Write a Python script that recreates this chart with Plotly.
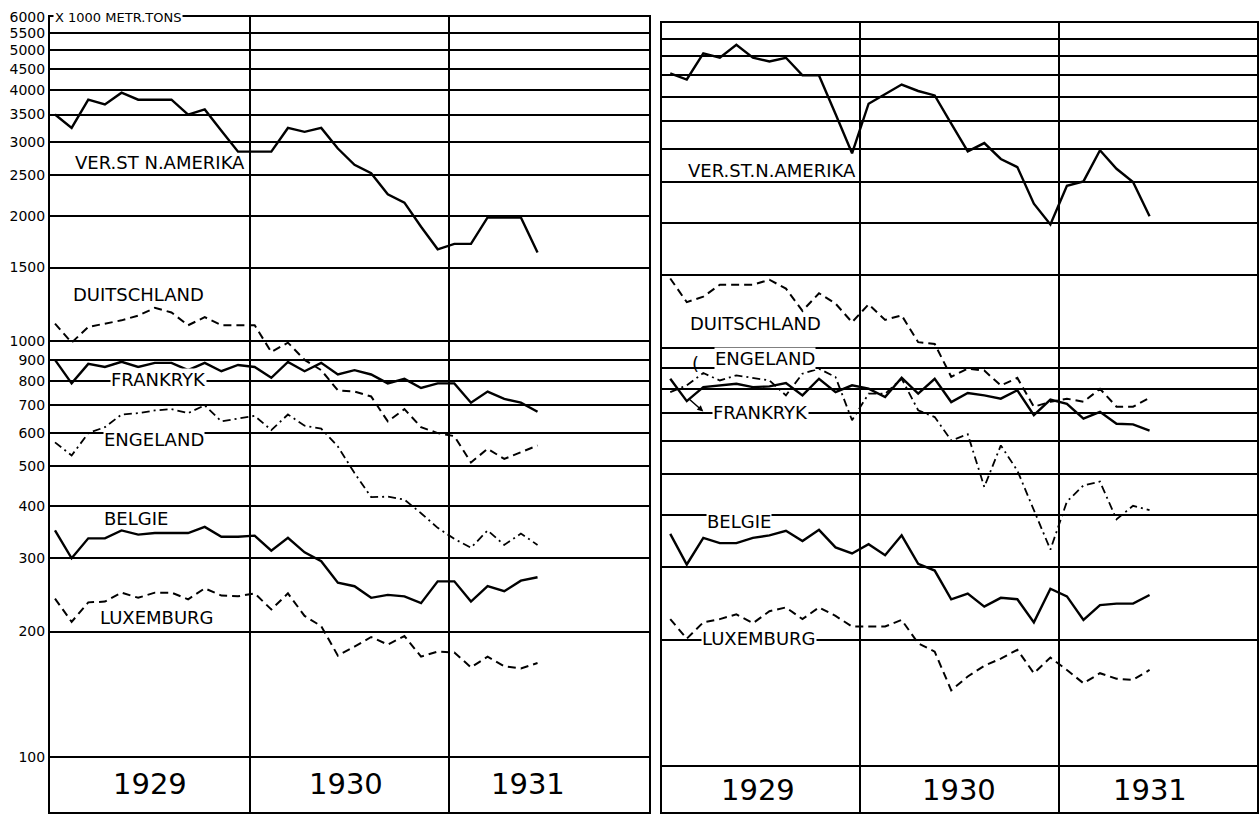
import math
import plotly.graph_objects as go

# ---------------- data (x 1000 metric tons, monthly Jan 1929 - Jun 1931) ----------------
MONTHS = [f"{y}-{m:02d}" for y in (1929, 1930, 1931) for m in range(1, 13)][:30]
YEARS = ["1929", "1930", "1931"]
TICK_VALUES = [100, 200, 300, 400, 500, 600, 700, 800, 900, 1000,
               1500, 2000, 2500, 3000, 3500, 4000, 4500, 5000, 5500, 6000]
TICK_TEXT = [str(v) for v in TICK_VALUES]

# left panel
US_L = [3500, 3250, 3800, 3700, 3950, 3800, 3800, 3800, 3500, 3600, 3200, 2850, 2850, 2850, 3250,
        3180, 3250, 2900, 2650, 2530, 2250, 2150, 1880, 1660, 1710, 1710, 1980, 1980, 1980, 1630]
DU_L = [1100, 990, 1080, 1100, 1120, 1150, 1200, 1170, 1090, 1140, 1090, 1090, 1090, 940, 990,
        900, 850, 760, 755, 735, 640, 685, 620, 600, 590, 510, 550, 520, 540, 560]
FR_L = [900, 790, 880, 865, 890, 865, 885, 885, 850, 885, 845, 875, 865, 815, 890,
        845, 885, 830, 850, 830, 790, 810, 770, 790, 790, 710, 755, 725, 710, 675]
EN_L = [570, 530, 600, 620, 665, 670, 680, 685, 670, 700, 640, 650, 660, 610, 665,
        625, 615, 557, 481, 421, 422, 415, 385, 355, 334, 318, 350, 323, 344, 323]
BE_L = [350, 300, 335, 335, 350, 342, 345, 345, 345, 357, 338, 338, 340, 313, 336,
        310, 295, 262, 257, 241, 245, 243, 234, 264, 264, 236, 257, 250, 265, 270]
LU_L = [240, 211, 235, 236, 248, 241, 248, 248, 239, 254, 244, 243, 247, 226, 247,
        218, 206, 175, 184, 194, 186, 195, 174, 179, 178, 164, 174, 165, 163, 168]

# right panel
US_R = [4550, 4400, 5080, 4960, 5330, 4960, 4860, 4960, 4500, 4500, 3640, 2930, 3850, 4050, 4280,
        4130, 4030, 3450, 2960, 3100, 2840, 2715, 2220, 1980, 2450, 2510, 2980, 2690, 2500, 2070]
DU_R = [1470, 1290, 1330, 1420, 1420, 1420, 1460, 1390, 1230, 1355, 1280, 1155, 1275, 1170, 1200,
        1035, 1025, 855, 895, 885, 815, 850, 725, 745, 758, 745, 800, 725, 725, 762]
EN_R = [786, 816, 873, 838, 862, 851, 838, 772, 870, 894, 854, 673, 779, 779, 846,
        711, 685, 602, 623, 466, 586, 510, 410, 330, 430, 470, 480, 390, 420, 410]
FR_R = [846, 748, 808, 816, 823, 808, 811, 826, 772, 846, 786, 816, 801, 765, 851,
        779, 846, 744, 782, 772, 758, 794, 692, 754, 737, 679, 705, 660, 658, 636]
BE_R = [360, 304, 352, 342, 342, 352, 357, 366, 346, 368, 334, 323, 340, 320, 357,
        305, 294, 251, 259, 241, 253, 251, 221, 266, 255, 224, 243, 245, 245, 257]
LU_R = [225, 202, 221, 225, 231, 220, 235, 240, 225, 240, 229, 216, 216, 216, 224,
        197, 188, 152, 164, 174, 181, 190, 167, 182, 170, 158, 167, 162, 161, 170]

# ---------------- styling / layout constants ----------------
FONT = "DejaVu Sans"
SOLID = dict(dash="solid", width=2.4)
DASHED = dict(dash="8px,5px", width=2.0)
DASHDOT = dict(dash="8px,4px,2px,4px", width=1.8)

LEFT_OFFSET, RIGHT_OFFSET = 0.3, 0.5   # month position inside the monthly column
x_left = [i + LEFT_OFFSET for i in range(len(MONTHS))]
x_right = [i + RIGHT_OFFSET for i in range(len(MONTHS))]

panels = [
    ("x", "y", x_left, [(US_L, SOLID), (DU_L, DASHED), (FR_L, SOLID),
                        (EN_L, DASHDOT), (BE_L, SOLID), (LU_L, DASHED)]),
    ("x2", "y2", x_right, [(US_R, SOLID), (DU_R, DASHED), (FR_R, SOLID),
                           (EN_R, DASHDOT), (BE_R, SOLID), (LU_R, DASHED)]),
]

fig = go.Figure()
for xa, ya, xs, series in panels:
    for vals, st in series:
        fig.add_trace(go.Scatter(
            x=xs, y=vals, mode="lines", xaxis=xa, yaxis=ya,
            line=dict(color="black", width=st["width"], dash=st["dash"]),
            showlegend=False, hoverinfo="skip"))

TOP = math.log10(6000) + 0.0005
axis_common = dict(showline=True, mirror=True, linecolor="black", linewidth=2,
                   zeroline=False, ticks="")
xcommon = dict(range=[0, 36], tickvals=[12, 24], showticklabels=False,
               showgrid=True, gridcolor="black", gridwidth=1.6, **axis_common)
ycommon = dict(type="log", tickvals=TICK_VALUES, ticktext=TICK_TEXT,
               showgrid=True, gridcolor="black", gridwidth=1.6, **axis_common)

fig.update_layout(
    width=1260, height=814,
    margin=dict(l=50, r=1, t=17, b=2),
    paper_bgcolor="white", plot_bgcolor="white",
    font=dict(family=FONT, color="black"),
    xaxis=dict(domain=[0, 0.49628], anchor="y", **xcommon),
    xaxis2=dict(domain=[0.50703, 1], anchor="y2", **xcommon),
    yaxis=dict(domain=[0, 1], anchor="x", range=[1.867, TOP],
               tickfont=dict(size=14, family=FONT, color="black"), **ycommon),
    yaxis2=dict(domain=[0, 0.99245], anchor="x2", range=[1.8906, TOP],
                showticklabels=False, **ycommon),
)

ann = []
# unit label next to the top tick
ann.append(dict(x=0.15, y=math.log10(6000), xref="x", yref="y", xanchor="left",
                yanchor="middle", text="X 1000 METR.TONS", showarrow=False,
                font=dict(size=13, family=FONT), bgcolor="white", borderpad=1))

# series labels: (text, x in months, log10 y, axis suffix, white background)
LABELS = [
    ("VER.ST N.AMERIKA", 6.6, 3.428, "", False),
    ("DUITSCHLAND", 5.34, 3.111, "", False),
    ("FRANKRYK", 6.5, 2.906, "", True),
    ("ENGELAND", 6.25, 2.762, "", True),
    ("BELGIE", 5.16, 2.572, "", False),
    ("LUXEMBURG", 6.42, 2.334, "", False),
    ("VER.ST.N.AMERIKA", 6.67, 3.426, "2", False),
    ("DUITSCHLAND", 5.64, 3.060, "2", False),
    ("ENGELAND", 6.24, 2.976, "2", True),
    ("FRANKRYK", 5.94, 2.847, "2", True),
    ("BELGIE", 4.67, 2.586, "2", True),
    ("LUXEMBURG", 5.88, 2.306, "2", True),
]
for text, lx, ly, sfx, bg in LABELS:
    a = dict(x=lx, y=ly, xref="x" + sfx, yref="y" + sfx, text=text, showarrow=False,
             xanchor="center", yanchor="middle", font=dict(size=18, family=FONT),
             borderpad=0)
    if bg:
        a["bgcolor"] = "white"
    ann.append(a)

# leader marks from the lines to their labels (right panel)
ann.append(dict(x=2.5, y=2.849, xref="x2", yref="y2", ax=-16, ay=-14, text="",
                showarrow=True, arrowhead=2, arrowsize=0.8, arrowwidth=1.5,
                arrowcolor="black"))
ann.append(dict(x=2.35, y=2.965, xref="x2", yref="y2", text="(", showarrow=False,
                xanchor="right", yanchor="middle", font=dict(size=18, family=FONT)))

# year captions in the boxes below the 100 line
YEAR_X = {"": [6, 17.8, 28.7], "2": [5.8, 18, 29.5]}
YEAR_Y = {"": 1.935, "2": 1.943}
for sfx, xs in YEAR_X.items():
    for yr, yx in zip(YEARS, xs):
        ann.append(dict(x=yx, y=YEAR_Y[sfx], xref="x" + sfx, yref="y" + sfx, text=yr,
                        showarrow=False, xanchor="center", yanchor="middle",
                        font=dict(size=29, family=FONT)))

fig.update_layout(annotations=ann)
fig.write_html(
    "out.html",
    config={"displayModeBar": False},
    post_script="document.body.style.margin='0px';document.body.style.overflow='hidden';",
)
